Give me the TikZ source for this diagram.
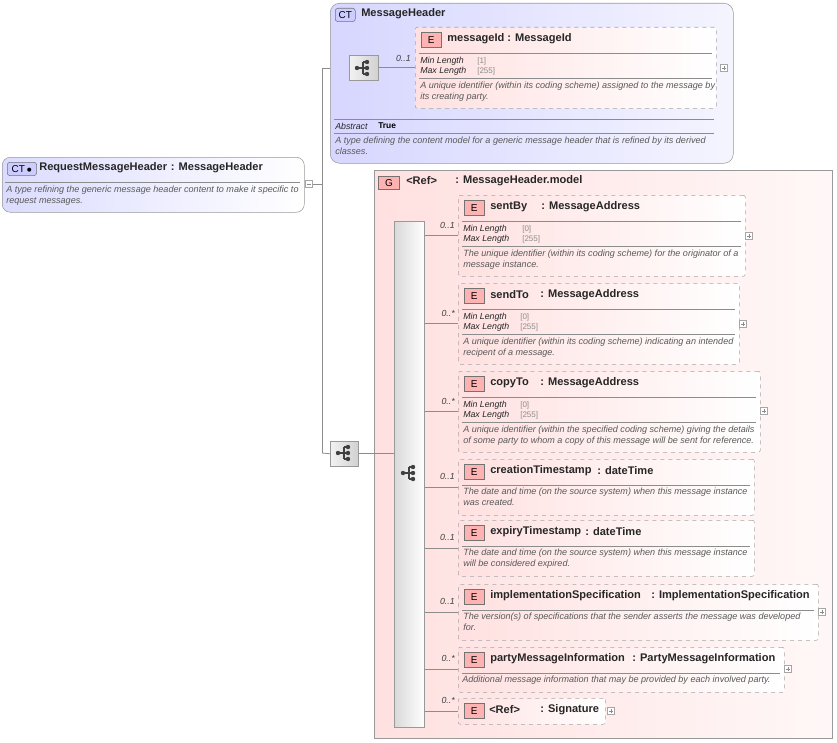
\documentclass[tikz,border=0pt]{standalone}
\usepackage{fontspec}
\setmainfont{Liberation Sans}
\begin{document}
\begin{tikzpicture}[x=0.75pt,y=-0.75pt,
 ttl/.style={font=\fontsize{8.3}{9}\selectfont\bfseries, text=black!85, inner sep=0pt},
 dsc/.style={font=\fontsize{6.8}{8}\selectfont\itshape, text=black!65, inner sep=0pt, align=left, anchor=north west},
 fct/.style={font=\fontsize{6.6}{7.6}\selectfont\itshape, text=black!85, inner sep=0pt, anchor=west},
 fval/.style={font=\fontsize{6}{7}\selectfont, text=black!45, inner sep=0pt, anchor=west},
 card/.style={font=\fontsize{6.6}{7}\selectfont\itshape, text=black!75, inner sep=0pt, anchor=south east},
 ebox/.style={draw=black!35, dashed, left color=red!12, right color=white, rounded corners=1.5pt, anchor=north west, inner sep=0pt},
 badge/.style={draw=black!55, fill=red!30, font=\fontsize{7.5}{8}\selectfont, inner sep=0pt, minimum width=15pt, minimum height=11pt, anchor=north west},
 sepl/.style={draw=black!45, line width=0.5pt},
 conn/.style={draw=black!45, line width=0.6pt},
 pm/.style={draw=black!35, fill=white, minimum size=5.5pt, inner sep=0pt}
]
\useasboundingbox (0,0) rectangle (837,742);

\newcommand\ebox[8]{%
 \node[ebox, minimum width={(#4)*0.75pt}, minimum height={(#5)*0.75pt}] (#1) at (#2,#3) {};
 \node[badge] at (#2+6,#3+5) {E};
 \node[ttl, anchor=west] at (#2+32,#3+12) {#6};
 \node[ttl, anchor=west] at (#7,#3+12) {: #8};
 \draw[sepl] (#2+4,#3+26) -- (#2+#4-4,#3+26);}
\newcommand\plusbox[3]{%
 \node[pm] (#1) at (#2,#3) {};
 \draw[black!45,line width=0.4pt] (#2-2,#3) -- (#2+2,#3) (#2,#3-2) -- (#2,#3+2);}
\newcommand\seqicon[2]{%
 \draw[black!75,line width=0.8pt] (#1-6,#2) -- (#1,#2) (#1,#2-6) -- (#1,#2+6)
   (#1,#2-6) -- (#1+4,#2-6) (#1,#2+6) -- (#1+4,#2+6) (#1,#2) -- (#1+4,#2);
 \fill[black!75] (#1-6,#2) circle (2.2) (#1+4,#2-6) circle (2.2) (#1+4,#2) circle (2.2) (#1+4,#2+6) circle (2.2);}

% ---------- left complex type
\node[draw=black!40, rounded corners=6pt, left color=blue!14, right color=white, minimum width={302*0.75pt}, minimum height={55*0.75pt}, anchor=north west, inner sep=0pt] (req) at (2,157) {};
\node[draw=black!55, fill=blue!20, rounded corners=2pt, font=\fontsize{7.5}{8}\selectfont, inner sep=0pt, minimum width=22pt, minimum height=10pt, anchor=north west] at (7,162) {CT\,$\bullet$};
\node[ttl, anchor=west] at (39,168) {RequestMessageHeader\,\,: MessageHeader};
\draw[sepl] (5,182) -- (300,182);
\node[dsc] at (6,186) {A type refining the generic message header content to make it specific to\\request messages.};
\node[pm] (minus) at (309,184) {};
\draw[black!45,line width=0.4pt] (307,184) -- (311,184);

% ---------- MessageHeader CT
\node[draw=black!40, rounded corners=7pt, left color=blue!16, right color=blue!4, minimum width={403*0.75pt}, minimum height={160*0.75pt}, anchor=north west, inner sep=0pt] (mh) at (330,3) {};
\node[draw=black!55, fill=blue!20, rounded corners=2pt, font=\fontsize{7.5}{8}\selectfont, inner sep=0pt, minimum width=15pt, minimum height=10pt, anchor=north west] at (335,8) {CT};
\node[ttl, anchor=west] at (361,14) {MessageHeader};
\node[draw=black!40, left color=black!5, right color=black!18, minimum width={29*0.75pt}, minimum height={25*0.75pt}, anchor=north west, inner sep=0pt] (seq1) at (349,55) {};
\seqicon{363}{68}
\ebox{mid}{415}{27}{301}{81}{messageId}{507}{MessageId}
\node[fct] at (420,61) {Min Length}; \node[fct] at (420,71) {Max Length};
\node[fval] at (477,61) {[1]}; \node[fval] at (477,71) {[255]};
\draw[sepl] (419,78) -- (712,78);
\node[dsc] at (420,82) {A unique identifier (within its coding scheme) assigned to the message by\\its creating party.};
\plusbox{p0}{724}{68}
\draw[conn] (seq1.east) -- (mid.west|-seq1.east);
\node[card] at (411,62) {0..1};
\draw[sepl] (334,119) -- (714,119);
\node[fct] at (335,126) {Abstract};
\node[font=\fontsize{6.3}{7}\selectfont\bfseries, inner sep=0pt, anchor=west] at (378,126) {True};
\draw[sepl] (334,133) -- (714,133);
\node[dsc] at (335,137) {A type defining the content model for a generic message header that is refined by its derived\\classes.};

% ---------- Group
\node[draw=black!40, left color=red!12, right color=red!3, minimum width={458*0.75pt}, minimum height={568*0.75pt}, anchor=north west, inner sep=0pt] (grp) at (374,170) {};
\node[draw=black!55, fill=red!30, font=\fontsize{7.5}{8}\selectfont, inner sep=0pt, minimum width=16pt, minimum height=10pt, anchor=north west] at (378,176) {G};
\node[ttl, anchor=west] at (406,181) {<Ref>};
\node[ttl, anchor=west] at (455,181) {: MessageHeader.model};
\node[draw=black!40, left color=black!15, right color=white, minimum width={30*0.75pt}, minimum height={506*0.75pt}, anchor=north west, inner sep=0pt] (bar) at (394,221) {};
\seqicon{409}{473}
\node[draw=black!40, left color=black!5, right color=black!18, minimum width={28*0.75pt}, minimum height={25*0.75pt}, anchor=north west, inner sep=0pt] (seq2) at (330,441) {};
\seqicon{344}{453}

% connectors left
\coordinate (jt) at (322,68);
\coordinate (jb) at (322,453);
\draw[conn] (minus.east) -- (322,184);
\draw[conn] (jt) -- (jb);
\draw[conn] (jt) -- (mh.west|-jt);
\draw[conn] (jb) -- (seq2.west);
\draw[conn] (seq2.east) -- (bar.west|-seq2.east);

% sentBy
\ebox{e1}{458}{195}{287}{81}{sentBy}{541}{MessageAddress}
\node[fct] at (463,229) {Min Length}; \node[fct] at (463,239) {Max Length};
\node[fval] at (522,229) {[0]}; \node[fval] at (522,239) {[255]};
\draw[sepl] (462,246) -- (741,246);
\node[dsc] at (463,250) {The unique identifier (within its coding scheme) for the originator of a\\message instance.};
\plusbox{p1}{749}{236}
\draw[conn] (bar.east|-e1.west) -- (e1.west); \node[card] at (455,229) {0..1};
% sendTo
\ebox{e2}{458}{283}{281}{81}{sendTo}{540}{MessageAddress}
\node[fct] at (463,317) {Min Length}; \node[fct] at (463,327) {Max Length};
\node[fval] at (520,317) {[0]}; \node[fval] at (520,327) {[255]};
\draw[sepl] (462,334) -- (735,334);
\node[dsc] at (463,338) {A unique identifier (within its coding scheme) indicating an intended\\recipent of a message.};
\plusbox{p2}{743}{324}
\draw[conn] (bar.east|-e2.west) -- (e2.west); \node[card] at (455,317) {0..*};
% copyTo
\ebox{e3}{458}{371}{302}{81}{copyTo}{540}{MessageAddress}
\node[fct] at (463,405) {Min Length}; \node[fct] at (463,415) {Max Length};
\node[fval] at (520,405) {[0]}; \node[fval] at (520,415) {[255]};
\draw[sepl] (462,422) -- (756,422);
\node[dsc] at (463,426) {A unique identifier (within the specified coding scheme) giving the details\\of some party to whom a copy of this message will be sent for reference.};
\plusbox{p3}{764}{411}
\draw[conn] (bar.east|-e3.west) -- (e3.west); \node[card] at (455,405) {0..*};
% creationTimestamp
\ebox{e4}{458}{459}{296}{56}{creationTimestamp}{597}{dateTime}
\node[dsc] at (463,488) {The date and time (on the source system) when this message instance\\was created.};
\draw[conn] (bar.east|-e4.west) -- (e4.west); \node[card] at (455,480) {0..1};
% expiryTimestamp
\ebox{e5}{458}{520}{296}{56}{expiryTimestamp}{585}{dateTime}
\node[dsc] at (463,549) {The date and time (on the source system) when this message instance\\will be considered expired.};
\draw[conn] (bar.east|-e5.west) -- (e5.west); \node[card] at (455,541) {0..1};
% implementationSpecification
\ebox{e6}{458}{584}{360}{56}{implementationSpecification}{651}{ImplementationSpecification}
\node[dsc] at (463,613) {The version(s) of specifications that the sender asserts the message was developed\\for.};
\plusbox{p6}{822}{612}
\draw[conn] (bar.east|-e6.west) -- (e6.west); \node[card] at (455,605) {0..1};
% partyMessageInformation
\ebox{e7}{458}{647}{326}{45}{partyMessageInformation}{632}{PartyMessageInformation}
\node[dsc] at (462,676) {Additional message information that may be provided by each involved party.};
\plusbox{p7}{788}{669}
\draw[conn] (bar.east|-e7.west) -- (e7.west); \node[card] at (455,662) {0..*};
% Signature ref
\node[ebox, minimum width={147*0.75pt}, minimum height={26*0.75pt}] (e8) at (458,698) {};
\node[badge] at (464,703) {E};
\node[ttl, anchor=west] at (489,710) {<Ref>};
\node[ttl, anchor=west] at (540,710) {: Signature};
\plusbox{p8}{611}{711}
\draw[conn] (bar.east|-e8.west) -- (e8.west); \node[card] at (455,704) {0..*};
\end{tikzpicture}
\end{document}
